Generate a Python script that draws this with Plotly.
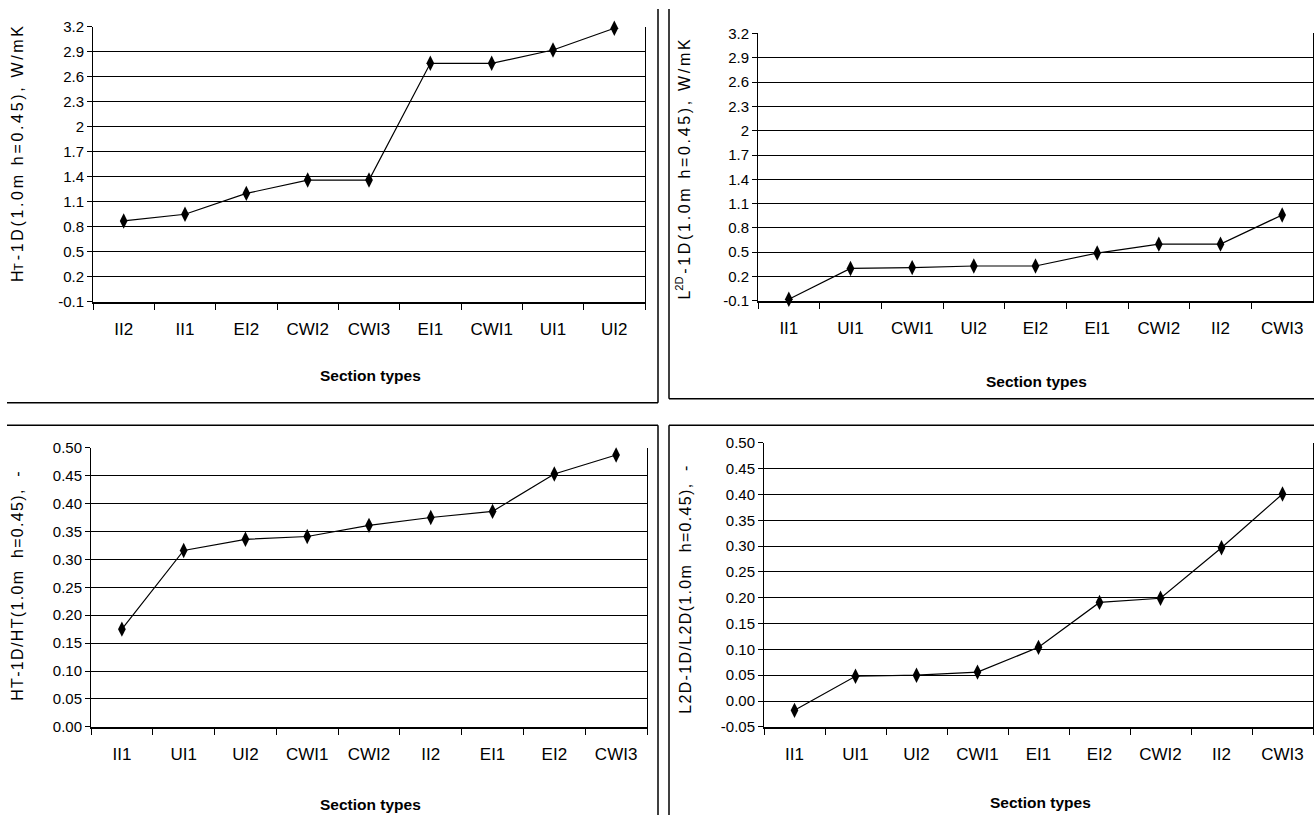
import plotly.graph_objects as go

W, H = 1314, 823

# ---------------- data ----------------
cats_tl = ["II2", "II1", "EI2", "CWI2", "CWI3", "EI1", "CWI1", "UI1", "UI2"]
vals_tl = [0.87, 0.95, 1.20, 1.36, 1.36, 2.76, 2.76, 2.92, 3.18]

cats_tr = ["II1", "UI1", "CWI1", "UI2", "EI2", "EI1", "CWI2", "II2", "CWI3"]
vals_tr = [-0.08, 0.30, 0.31, 0.33, 0.33, 0.49, 0.60, 0.60, 0.96]

cats_bl = ["II1", "UI1", "UI2", "CWI1", "CWI2", "II2", "EI1", "EI2", "CWI3"]
vals_bl = [0.175, 0.316, 0.336, 0.341, 0.361, 0.375, 0.386, 0.453, 0.487]

cats_br = ["II1", "UI1", "UI2", "CWI1", "EI1", "EI2", "CWI2", "II2", "CWI3"]
vals_br = [-0.018, 0.048, 0.050, 0.056, 0.104, 0.191, 0.199, 0.297, 0.401]

ticks_top = [-0.1, 0.2, 0.5, 0.8, 1.1, 1.4, 1.7, 2.0, 2.3, 2.6, 2.9, 3.2]
ticktext_top = ["-0.1", "0.2", "0.5", "0.8", "1.1", "1.4", "1.7", "2", "2.3", "2.6", "2.9", "3.2"]
ticks_bl = [0.00, 0.05, 0.10, 0.15, 0.20, 0.25, 0.30, 0.35, 0.40, 0.45, 0.50]
ticktext_bl = ["0.00", "0.05", "0.10", "0.15", "0.20", "0.25", "0.30", "0.35", "0.40", "0.45", "0.50"]
ticks_br = [-0.05] + ticks_bl
ticktext_br = ["-0.05"] + ticktext_bl

HS = "\u200a"  # hair space for letter spacing


def spaced(s, k=1):
    return (HS * k).join(list(s))


title_tl = "H<span style='font-size:12px'>T</span>" + HS * 2 + spaced("-1D(1.0m h=0.45), W/mK", 2)
title_tr = "L<sup>2D</sup>" + HS * 2 + spaced("-1D(1.0m h=0.45), W/mK", 2)
title_bl = spaced("HT-1D/HT(1.0m  h=0.45),  -")
title_br = spaced("L2D-1D/L2D(1.0m  h=0.45),  -")
xlabel = "Section types"

# ---------------- layout helpers ----------------
def fx(px):
    return px / W


def fy(py):
    return 1 - py / H


FONT = "Liberation Sans, Arial, sans-serif"

panels = [
    # (cats, vals, xdom px, ydom px (top,bottom), yrange, tickvals, ticktext)
    (cats_tl, vals_tl, (93, 645), (18, 299), [-0.1, 3.2], ticks_top, ticktext_top),
    (cats_tr, vals_tr, (758, 1313), (25, 298), [-0.1, 3.2], ticks_top, ticktext_top),
    (cats_bl, vals_bl, (91, 647), (448, 733), [0.0, 0.5], ticks_bl, ticktext_bl),
    (cats_br, vals_br, (764, 1313), (443, 733), [-0.05, 0.5], ticks_br, ticktext_br),
]

fig = go.Figure()
layout = dict(
    width=W, height=H,
    margin=dict(l=0, r=0, t=0, b=0),
    paper_bgcolor="white", plot_bgcolor="white",
    showlegend=False,
    font=dict(family=FONT, color="black", size=13),
)

for i, (cats, vals, xd, yd, yr, tv, tt) in enumerate(panels):
    n = "" if i == 0 else str(i + 1)
    fig.add_trace(go.Scatter(
        x=cats, y=vals, mode="lines+markers",
        line=dict(color="black", width=1.2),
        marker=dict(symbol="diamond-tall", size=11, color="black"),
        xaxis="x" + n, yaxis="y" + n, cliponaxis=False,
    ))
    layout["xaxis" + n] = dict(
        domain=[fx(xd[0]), fx(xd[1])], anchor="y" + n,
        type="category", categoryorder="array", categoryarray=cats,
        range=[-0.5, len(cats) - 0.5],
        tickson="boundaries", ticks="outside", ticklen=6, tickcolor="black", tickwidth=1,
        showline=True, linecolor="black", linewidth=2, mirror=False,
        showgrid=False, zeroline=False,
        tickfont=dict(family=FONT, size=17, color="black"),
        ticklabelstandoff=11,
        fixedrange=True,
    )
    layout["yaxis" + n] = dict(
        domain=[fy(yd[1]), fy(yd[0])], anchor="x" + n,
        range=yr, tickvals=tv, ticktext=tt,
        ticks="outside", ticklen=5, tickcolor="black", tickwidth=1,
        showline=True, linecolor="black", linewidth=1, mirror=True,
        showgrid=True, gridcolor="black", gridwidth=1,
        zeroline=False,
        tickfont=dict(family=FONT, size=15, color="black"),
        fixedrange=True,
    )

fig.update_layout(**layout)

# axis titles (as annotations for exact placement)
ann = []
for (cx, cy, txt) in [(18, 148, title_tl), (683, 164, title_tr), (18, 590, title_bl), (686, 593, title_br)]:
    ann.append(dict(x=fx(cx), y=fy(cy), xref="paper", yref="paper", text=txt, showarrow=False,
                    textangle=-90, xanchor="center", yanchor="middle",
                    font=dict(family=FONT, size=16, color="black")))
for (cx, cy) in [(370, 374), (1036, 380), (370, 812), (1040, 810)]:
    ann.append(dict(x=fx(cx), y=fy(cy), xref="paper", yref="paper", text="<b>" + xlabel + "</b>",
                    showarrow=False, xanchor="center", yanchor="middle",
                    font=dict(family=FONT, size=15.5, color="black")))
fig.update_layout(annotations=ann)

# panel frame lines (chart-area borders)
shapes = []


def line(x0, y0, x1, y1):
    shapes.append(dict(type="line", xref="paper", yref="paper",
                       x0=fx(x0), y0=fy(y0), x1=fx(x1), y1=fy(y1),
                       line=dict(color="black", width=1.5)))


line(7, 402, 658, 402)
line(658, 0, 658, 402)
line(669, 0, 669, 398)
line(669, 398, 1314, 398)
line(7, 425, 658, 425)
line(658, 425, 658, 823)
line(669, 425, 1314, 425)
line(669, 425, 669, 823)
fig.update_layout(shapes=shapes)

fig.write_html("out.html")
